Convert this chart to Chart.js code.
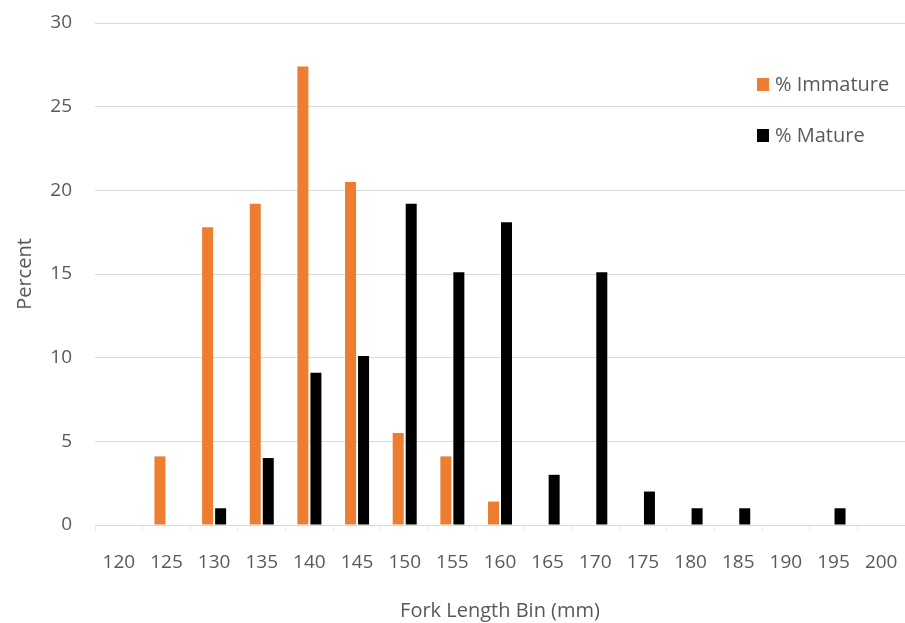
<!DOCTYPE html>
<html>
<head>
<meta charset="utf-8">
<script src="https://cdn.jsdelivr.net/npm/chart.js@4/dist/chart.umd.min.js"></script>
<style>
  html, body { margin: 0; padding: 0; background: #fff; }
  #wrap { width: 905px; height: 623px; position: relative; }
</style>
</head>
<body>
<div id="wrap"><canvas id="lengthChart"></canvas></div>
<script>
const binLabels = ["120", "125", "130", "135", "140", "145", "150", "155", "160",
  "165", "170", "175", "180", "185", "190", "195", "200"];
const immature = [0, 4.1, 17.8, 19.2, 27.4, 20.5, 5.5, 4.1, 1.4, 0, 0, 0, 0, 0, 0, 0, 0];
const mature = [0, 0, 1.0, 4.0, 9.1, 10.1, 19.2, 15.1, 18.1, 3.0, 15.1, 2.0, 1.0, 1.0, 0, 1.0, 0];

const textColor = "#595959";
const gridColor = "#d9d9d9";
const fontFamily = "'Open Sans', 'Noto Sans', sans-serif";

// legend drawn inside the plot, top right, like the original
const insideLegend = {
  id: "insideLegend",
  afterDraw(chart) {
    const ctx = chart.ctx;
    ctx.save();
    ctx.font = "20px " + fontFamily;
    ctx.textBaseline = "middle";
    chart.data.datasets.forEach((ds, i) => {
      const y = 85 + i * 51;
      ctx.fillStyle = ds.backgroundColor;
      ctx.fillRect(757, y - 7, 12, 13);
      ctx.fillStyle = textColor;
      ctx.fillText(ds.label, 775, y);
    });
    ctx.restore();
  }
};

new Chart(document.getElementById("lengthChart"), {
  type: "bar",
  data: {
    labels: binLabels,
    datasets: [
      {
        label: "% Immature",
        data: immature,
        backgroundColor: "#ED7D31",
        categoryPercentage: 0.546,
        barPercentage: 0.846
      },
      {
        label: "% Mature",
        data: mature,
        backgroundColor: "#000000",
        categoryPercentage: 0.546,
        barPercentage: 0.846
      }
    ]
  },
  options: {
    responsive: true,
    maintainAspectRatio: false,
    animation: false,
    layout: { padding: { top: 23, left: 0, right: 0, bottom: 0 } },
    plugins: {
      legend: { display: false },
      tooltip: { enabled: false }
    },
    scales: {
      x: {
        grid: {
          drawOnChartArea: false,
          drawTicks: true,
          tickLength: 6,
          color: "#ececec"
        },
        border: { display: false },
        ticks: {
          color: textColor,
          font: { family: fontFamily, size: 19 },
          padding: 20,
          maxRotation: 0
        },
        title: {
          display: true,
          text: "Fork Length Bin (mm)",
          color: textColor,
          font: { family: fontFamily, size: 20 },
          padding: { top: 3, bottom: 0 }
        },
        afterFit: (scale) => {
          scale.height = 98;
          scale.paddingLeft = 0;
          scale.paddingRight = 0;
        }
      },
      y: {
        min: 0,
        max: 30,
        grid: {
          color: gridColor,
          drawTicks: false
        },
        border: { display: false },
        ticks: {
          stepSize: 5,
          color: textColor,
          font: { family: fontFamily, size: 19 },
          padding: 23
        },
        title: {
          display: true,
          text: "Percent",
          color: textColor,
          font: { family: fontFamily, size: 20 },
          padding: { top: 13, bottom: 0 }
        },
        afterFit: (scale) => {
          scale.width = 95;
          scale.paddingTop = 0;
          scale.paddingBottom = 0;
        }
      }
    }
  },
  plugins: [insideLegend]
});
</script>
</body>
</html>
